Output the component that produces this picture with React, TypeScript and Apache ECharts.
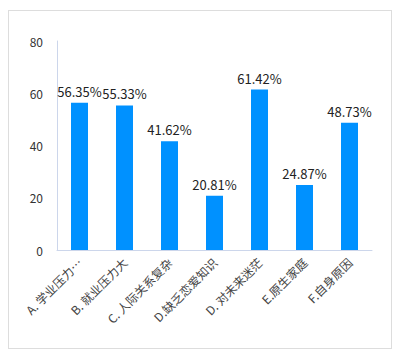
import React, { useEffect, useRef } from "react";
import * as echarts from "echarts";

const categories = [
  "A. 学业压力过大，学习负担重",
  "B. 就业压力大",
  "C. 人际关系复杂",
  "D.缺乏恋爱知识",
  "D. 对未来迷茫",
  "E.原生家庭",
  "F.自身原因",
];
const values = [56.35, 55.33, 41.62, 20.81, 61.42, 24.87, 48.73];
const yTicks = [0, 20, 40, 60, 80];

const FONT = "'Noto Sans CJK SC', 'Noto Sans', sans-serif";

export default function App() {
  const ref = useRef<HTMLDivElement>(null);
  useEffect(() => {
    const chart = echarts.init(ref.current!, null, { renderer: "svg" });
    chart.setOption({
      animation: false,
      textStyle: { fontFamily: FONT },
      grid: { left: 57, right: 26, top: 41, bottom: 110, containLabel: false },
      xAxis: {
        type: "category",
        data: categories,
        axisLine: { show: true, lineStyle: { color: "#ccd6eb" } },
        axisTick: { show: false },
        axisLabel: {
          rotate: 45,
          interval: 0,
          margin: 10,
          color: "#444",
          fontSize: 12,
          fontFamily: FONT,
          formatter: (v: string) => (v.length > 10 ? v.slice(0, 7) + "…" : v),
        },
      },
      yAxis: {
        type: "value",
        min: yTicks[0],
        max: yTicks[yTicks.length - 1],
        interval: 20,
        axisLine: { show: true, lineStyle: { color: "#ccd6eb" } },
        axisTick: { show: false },
        splitLine: { show: false },
        axisLabel: { color: "#333", fontSize: 12, margin: 14, fontFamily: FONT },
      },
      series: [
        {
          type: "bar",
          data: values,
          barWidth: 17,
          itemStyle: { color: "#0091ff" },
          label: {
            show: true,
            position: "top",
            distance: 5,
            color: "#222",
            fontSize: 13,
            fontFamily: FONT,
            formatter: (p: any) => p.value.toFixed(2) + "%",
          },
        },
      ],
    });
    return () => chart.dispose();
  }, []);
  return (
    <div style={{ position: "absolute", left: 0, top: 0, width: 398, height: 360 }}>
      <div
        style={{
          position: "absolute",
          left: 8,
          top: 10,
          width: 384,
          height: 339,
          border: "1px solid #dddddd",
          boxSizing: "border-box",
        }}
      />
      <div ref={ref} style={{ position: "absolute", left: 0, top: 0, width: 398, height: 360 }} />
    </div>
  );
}
